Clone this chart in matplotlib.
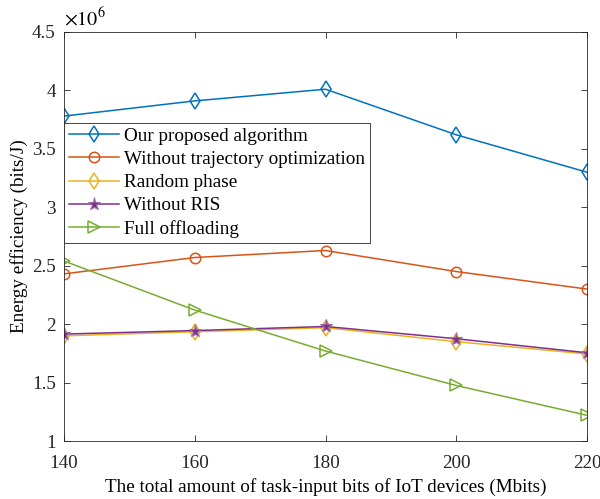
import matplotlib
matplotlib.use('Agg')
import matplotlib.pyplot as plt
from matplotlib.ticker import FuncFormatter

###       DATA        ###
bits = [140, 160, 180, 200, 220]   # Mbits

proposed = [3.78, 3.91, 4.01, 3.62, 3.30]
no_traj = [2.43, 2.57, 2.63, 2.45, 2.30]
random_phase = [1.90, 1.935, 1.97, 1.85, 1.745]
no_ris = [1.915, 1.945, 1.98, 1.875, 1.755]
full_off = [2.54, 2.12, 1.77, 1.475, 1.22]

names = ['Our proposed algorithm', 'Without trajectory optimization',
         'Random phase', 'Without RIS', 'Full offloading']
###                   ###

plt.rcParams['font.family'] = ['Liberation Serif', 'DejaVu Serif']
plt.rcParams['mathtext.fontset'] = 'stix'
fs = 13.8

fig = plt.figure(figsize=(6, 4.99), dpi=100)
ax = fig.add_axes([0.1067, 0.1162, 0.8716, 0.8198])

lw = 1.1
ax.plot(bits, proposed, color='#0072BD', lw=lw, marker='d', ms=8.5, mfc='none', mew=1.1, label=names[0])
ax.plot(bits, no_traj, color='#D95319', lw=lw, marker='o', ms=7.5, mfc='none', mew=1.1, label=names[1])
ax.plot(bits, random_phase, color='#EDB120', lw=lw, marker='d', ms=8.5, mfc='none', mew=1.1, label=names[2])
ax.plot(bits, no_ris, color='#7E2F8E', lw=lw, marker='*', ms=9.5, mfc='#7E2F8E', mec='#9B6BA8', mew=0.8, label=names[3])
ax.plot(bits, full_off, color='#77AC30', lw=lw, marker='>', ms=8.5, mfc='none', mew=1.1, label=names[4])

ax.set_xlim(140, 220)
ax.set_ylim(1, 4.5)
ax.set_xticks([140, 160, 180, 200, 220])
ax.set_yticks([1, 1.5, 2, 2.5, 3, 3.5, 4, 4.5])
ax.yaxis.set_major_formatter(FuncFormatter(lambda v, p: ('%g' % v)))
ax.tick_params(direction='in', top=True, right=True, labelsize=fs, length=4.5, width=0.6,
               colors='#262626')
ax.tick_params(axis='x', pad=10)
ax.tick_params(axis='y', pad=6)
for s in ax.spines.values():
    s.set_color('#262626')
    s.set_linewidth(0.6)

ax.text(0.0, 1.003, r'$\times10^6$', transform=ax.transAxes, fontsize=14.5, ha='left', va='bottom')

ax.set_xlabel('The total amount of task-input bits of IoT devices (Mbits)', fontsize=fs, labelpad=4.5)
ax.set_ylabel('Energy efficiency (bits/J)', fontsize=fs, labelpad=3)

leg = ax.legend(loc='upper left', bbox_to_anchor=(0.0, 0.778), borderaxespad=0, fancybox=False,
                framealpha=1, edgecolor='#262626', fontsize=fs, handlelength=2.6,
                labelspacing=0.3, borderpad=0.25, handletextpad=0.3)
leg.get_frame().set_linewidth(0.6)

fig.savefig('out.png', dpi=100, facecolor='white')
